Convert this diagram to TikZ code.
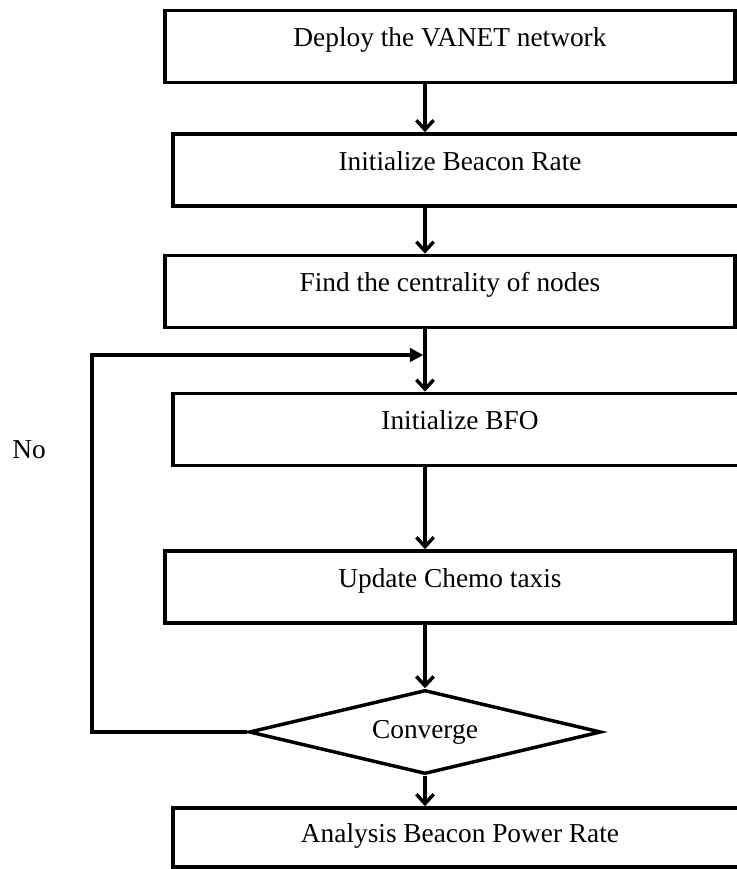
\documentclass[tikz,border=0pt]{standalone}
\usepackage{fontspec}
\setmainfont{Liberation Serif}
\usetikzlibrary{arrows.meta,shapes.geometric}

\begin{document}
\begin{tikzpicture}[x=0.75pt,y=-0.75pt,
   font=\fontsize{20.5}{24}\selectfont,
   block/.style={draw,line width=2.8pt,inner sep=0pt,minimum width=427.5pt,
      text height=27pt,text depth=27pt},
   wide/.style={block,minimum width=430.5pt},
   decision/.style={draw,diamond,aspect=4.2,line width=2.6pt,inner sep=0pt,
      minimum width=264pt,minimum height=63pt},
   flow/.style={line width=2.6pt,-{Straight Barb[length=7pt,width=13pt]}},
   back/.style={line width=2.6pt,shorten >=1.3pt,-{Triangle[length=10pt,width=10pt]}}]
\clip (0,0) rectangle (737,869);
\node[block] (deploy) at (450,46.5) {Deploy the VANET network};
\node[wide] (beacon) at (460,170) {Initialize Beacon Rate};
\node[block] (central) at (450,291.5) {Find the centrality of nodes};
\node[wide] (bfo) at (460,429.5) {Initialize BFO};
\node[block] (chemo) at (450,587) {Update Chemo taxis};
\node[decision] (conv) at (425,732) {Converge};
\node[wide,text height=25.5pt,text depth=18.75pt] (power) at (460,837.5) {Analysis Beacon Power Rate};
\node (no) at (29,450) {No};
\coordinate (join) at (425,355);
\coordinate (turn) at (92,355);
\draw[flow] (deploy.south -| conv.north) -- (beacon.north -| conv.north);
\draw[flow] (beacon.south -| conv.north) -- (central.north -| conv.north);
\draw[flow] (central.south -| conv.north) -- (bfo.north -| conv.north);
\draw[flow] (bfo.south -| conv.north) -- (chemo.north -| conv.north);
\draw[flow] (chemo.south -| conv.north) -- (conv.north);
\draw[flow] (conv.south) -- (power.north -| conv.south);
\draw[back] (conv.west) -| (turn) -- (join);
\end{tikzpicture}
\end{document}
